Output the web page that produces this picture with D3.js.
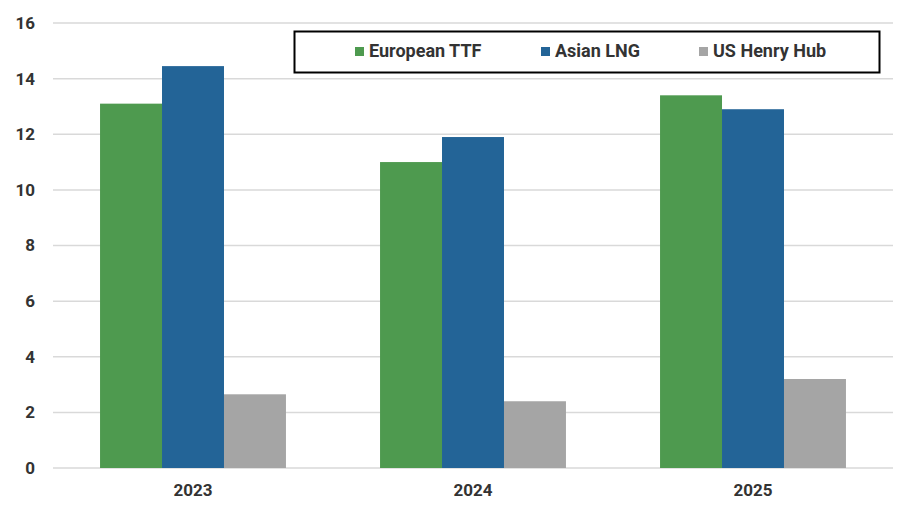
<!DOCTYPE html>
<html>
<head>
<meta charset="utf-8">
<script src="https://cdn.jsdelivr.net/npm/d3@7"></script>
<style>
  body { margin: 0; background: #fff; }
  svg { font-family: Roboto, "Noto Sans", sans-serif; }
</style>
</head>
<body>
<svg id="chart" width="910" height="530"></svg>
<script>
var years = ["2023", "2024", "2025"];
var seriesNames = ["European TTF", "Asian LNG", "US Henry Hub"];
var europeanTTF = [13.1, 11.0, 13.4];
var asianLNG = [14.45, 11.9, 12.9];
var usHenryHub = [2.65, 2.4, 3.2];
var yTicks = [0, 2, 4, 6, 8, 10, 12, 14, 16];
var colors = ["#4e9a4f", "#236497", "#a5a5a5"];

var values = [europeanTTF, asianLNG, usHenryHub];
var svg = d3.select("#chart");

// 繪圖區範圍 (window.top 是保留字, 不能用 top)
var plotLeft = 53, plotRight = 893, plotTop = 23, plotBottom = 468;

var x = d3.scaleBand().domain(years).range([plotLeft, plotRight]).paddingInner(0.336).paddingOuter(0.168);
var xs = d3.scaleBand().domain(seriesNames).range([0, x.bandwidth()]);
var y = d3.scaleLinear().domain([0, 16]).range([plotBottom, plotTop]);

// grid lines
svg.append("g")
    .selectAll("line")
    .data(yTicks)
    .enter()
    .append("line")
    .attr("x1", plotLeft)
    .attr("x2", plotRight)
    .attr("y1", function(d) { return y(d) })
    .attr("y2", function(d) { return y(d) })
    .attr("stroke", "#d9d9d9")
    .attr("stroke-width", 1.5);

// y axis labels
var yAxis = svg.append("g")
    .attr("transform", "translate(" + plotLeft + ",0)")
    .call(d3.axisLeft(y).tickValues(yTicks).tickSize(0).tickPadding(18));
yAxis.select(".domain").remove();
yAxis.selectAll("text")
    .attr("font-size", 17)
    .attr("font-weight", "bold")
    .attr("fill", "#333")
    .attr("font-family", "Roboto, sans-serif");

// bars
var groups = svg.append("g")
    .selectAll("g")
    .data(years)
    .enter()
    .append("g")
    .attr("transform", function(d) { return "translate(" + x(d) + ",0)" });

groups.selectAll("rect")
    .data(function(d, i) {
        return seriesNames.map(function(s, k) {
            return { name: s, value: values[k][i], color: colors[k] }
        })
    })
    .enter()
    .append("rect")
    .attr("x", function(d) { return xs(d.name) })
    .attr("width", xs.bandwidth())
    .attr("y", function(d) { return y(d.value) })
    .attr("height", function(d) { return y(0) - y(d.value) })
    .attr("fill", function(d) { return d.color });

// x axis labels
var xAxis = svg.append("g")
    .attr("transform", "translate(0," + plotBottom + ")")
    .call(d3.axisBottom(x).tickSize(0).tickPadding(16));
xAxis.select(".domain").remove();
xAxis.selectAll("text")
    .attr("font-size", 17)
    .attr("font-weight", "bold")
    .attr("fill", "#333")
    .attr("font-family", "Roboto, sans-serif");

// legend
var legend = svg.append("g");
legend.append("rect")
    .attr("x", 294.5)
    .attr("y", 31.5)
    .attr("width", 585)
    .attr("height", 41)
    .attr("fill", "#fff")
    .attr("stroke", "#000")
    .attr("stroke-width", 2);

var legendX = [355, 541, 699];
var items = legend.selectAll("g.item")
    .data(seriesNames)
    .enter()
    .append("g")
    .attr("class", "item")
    .attr("transform", function(d, i) { return "translate(" + legendX[i] + ",51)" });
items.append("rect")
    .attr("x", 0)
    .attr("y", -4)
    .attr("width", 9)
    .attr("height", 9)
    .attr("fill", function(d, i) { return colors[i] });
items.append("text")
    .attr("x", 14)
    .attr("y", 0)
    .attr("dy", "0.35em")
    .attr("font-size", 18)
    .attr("font-weight", "bold")
    .attr("fill", "#333")
    .text(function(d) { return d });
</script>
</body>
</html>
